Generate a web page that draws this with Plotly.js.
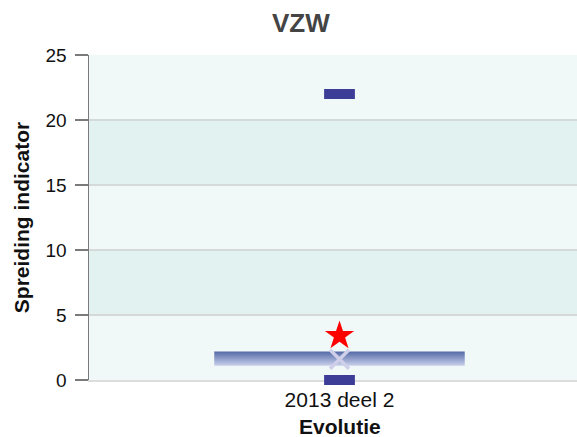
<!DOCTYPE html>
<html>
<head>
<meta charset="utf-8">
<script src="https://cdn.plot.ly/plotly-3.0.1.min.js"></script>
<style>
html,body{margin:0;padding:0;overflow:hidden;background:#fff;}
#chart{width:590px;height:437px;}
</style>
</head>
<body>
<div id="chart"></div>
<script>
// Data
const categories = ['2013 deel 2'];
const minVals = [0];
const q1Vals = [1.1];
const q3Vals = [2.2];
const maxVals = [22];
const meanVals = [1.6];
const ownVals = [3.4];
const bandEdges = [0, 5, 10, 15, 20, 25];
const yTicks = [0, 5, 10, 15, 20, 25];

const idx = categories.map((c, i) => i);
const boxHalf = 0.25;

const traces = [];
// gradient boxes
idx.forEach(i => {
  traces.push({
    type: 'scatter', mode: 'lines',
    x: [i - boxHalf, i + boxHalf, i + boxHalf, i - boxHalf, i - boxHalf],
    y: [q1Vals[i], q1Vals[i], q3Vals[i], q3Vals[i], q1Vals[i]],
    fill: 'toself',
    fillgradient: {type: 'vertical', colorscale: [[0, '#c9d0ea'], [1, '#5369a6']]},
    line: {width: 0},
    hoverinfo: 'skip',
    showlegend: false
  });
});
// min / max dashes
traces.push({
  type: 'scatter', mode: 'markers', x: idx, y: maxVals,
  marker: {symbol: 'line-ew', size: 22, line: {width: 10, color: '#3d3d98'}},
  cliponaxis: false, showlegend: false
});
traces.push({
  type: 'scatter', mode: 'markers', x: idx, y: minVals,
  marker: {symbol: 'line-ew', size: 22, line: {width: 10, color: '#3d3d98'}},
  cliponaxis: false, showlegend: false
});
// mean cross
traces.push({
  type: 'scatter', mode: 'markers', x: idx, y: meanVals,
  marker: {symbol: 'x-thin', size: 19, line: {width: 3.5, color: '#cfcfea'}},
  cliponaxis: false, showlegend: false
});
// own value star
traces.push({
  type: 'scatter', mode: 'markers', x: idx, y: ownVals,
  marker: {symbol: 'star', size: 22, color: '#ff0000', line: {width: 0}},
  cliponaxis: false, showlegend: false
});

const shapes = [];
for (let k = 0; k < bandEdges.length - 1; k++) {
  shapes.push({
    type: 'rect', xref: 'paper', yref: 'y', layer: 'below',
    x0: 0, x1: 1, y0: bandEdges[k], y1: bandEdges[k + 1],
    fillcolor: (k % 2 === 0) ? '#f0f9f8' : '#e2f2f1',
    line: {width: 0}
  });
}

const layout = {
  width: 590, height: 437,
  margin: {l: 89, r: 0, t: 55, b: 57},
  paper_bgcolor: '#ffffff',
  plot_bgcolor: '#f0f9f8',
  font: {family: 'Arial, Liberation Sans, sans-serif', color: '#111'},
  title: {
    text: '<b>VZW</b>', x: 0.51, xref: 'container', xanchor: 'center',
    y: 0.948, yref: 'container', yanchor: 'middle',
    font: {size: 26, color: '#444444', family: 'Arial, Liberation Sans, sans-serif'}
  },
  xaxis: {
    range: [-0.5, 0.5],
    tickvals: idx, ticktext: categories,
    showgrid: false, zeroline: false,
    showline: true, linecolor: '#dcdcdc', linewidth: 2,
    layer: 'below traces',
    ticks: '', tickfont: {size: 21, color: '#111'}
  },
  yaxis: {
    range: [0, 25],
    tickvals: yTicks,
    showgrid: true, gridcolor: '#d6d9d9', gridwidth: 1.5,
    zeroline: false,
    showline: true, linecolor: '#7a7a7a', linewidth: 1.5,
    layer: 'below traces',
    ticks: 'outside', ticklen: 13, tickcolor: '#7a7a7a', tickwidth: 1.5,
    ticklabelstandoff: 4,
    tickfont: {size: 19, color: '#111'},
    title: {text: '<b>Spreiding indicator</b>', font: {size: 21, color: '#111'}, standoff: 10}
  },
  annotations: [{
    text: '<b>Evolutie</b>', xref: 'paper', yref: 'paper', x: 0.5, y: 0,
    xanchor: 'center', yanchor: 'middle', yshift: -46, showarrow: false,
    font: {size: 21, color: '#111'}
  }],
  shapes: shapes,
  showlegend: false
};

Plotly.newPlot('chart', traces, layout, {displayModeBar: false, staticPlot: true});
</script>
</body>
</html>
